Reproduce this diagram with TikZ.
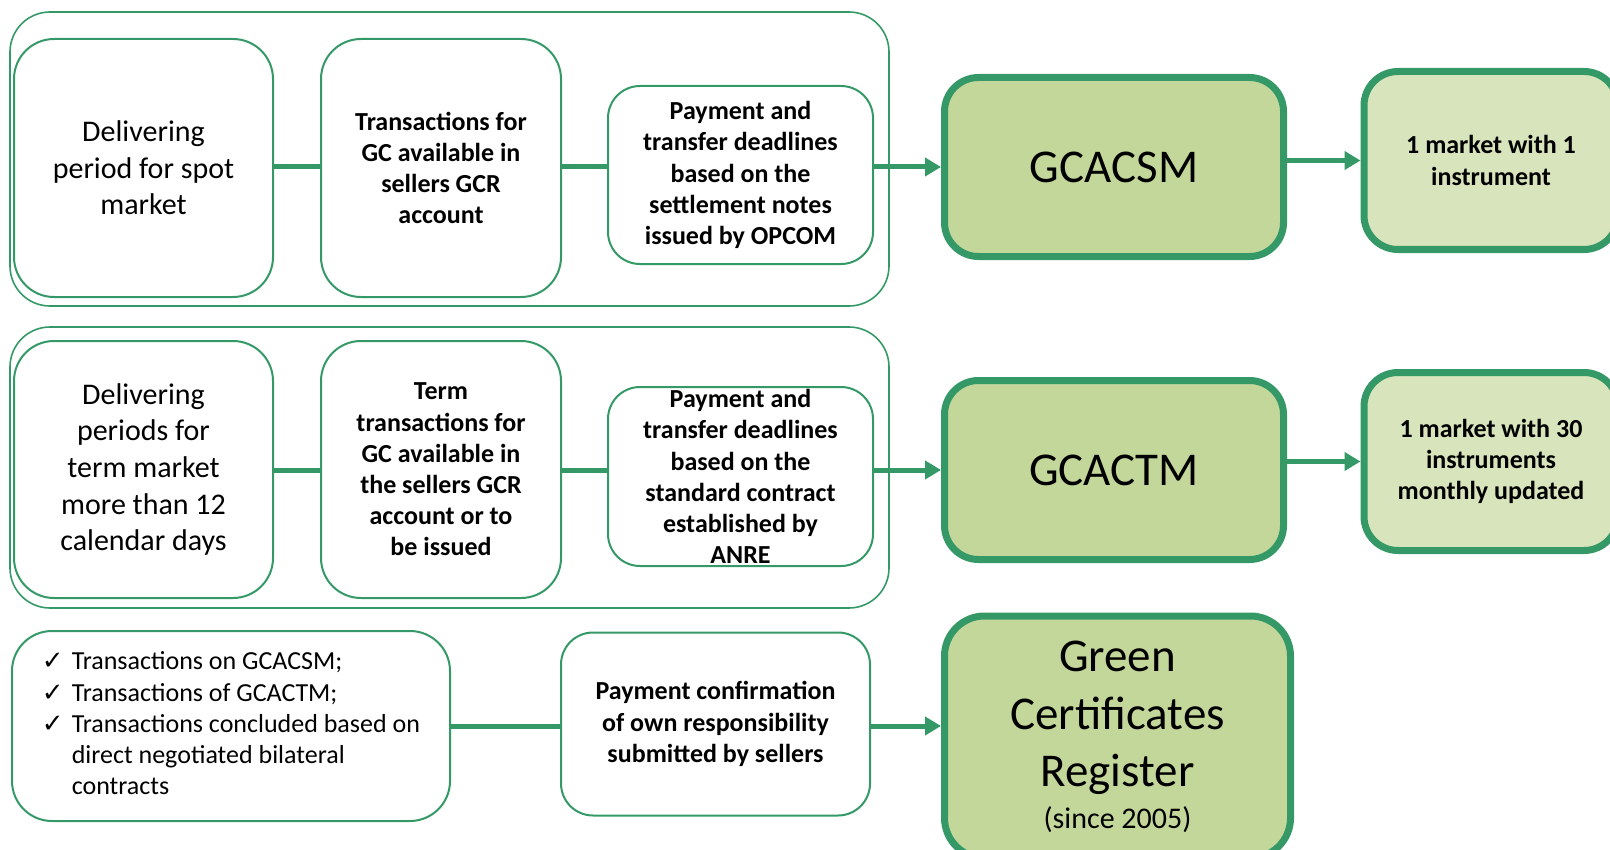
\documentclass[tikz,border=0pt]{standalone}
\usepackage{fontspec}
\setmainfont{Carlito}
\newfontfamily\symfont{DejaVu Sans}
\usetikzlibrary{arrows.meta}
\definecolor{gcgreen}{RGB}{52,153,103}
\definecolor{gcfill}{RGB}{196,215,155}
\definecolor{gclight}{RGB}{216,228,188}
\tikzset{
  frame/.style={draw=gcgreen, line width=0.8pt, rounded corners=20pt},
  stepbox/.style={draw=gcgreen, line width=1pt, fill=white, rounded corners=20pt, align=center, inner sep=0pt},
  plain/.style={stepbox, font=\fontsize{15}{18.3}\selectfont},
  bold/.style={stepbox, rounded corners=16pt, font=\bfseries\fontsize{13}{15.6}\selectfont},
  market/.style={draw=gcgreen, line width=3.5pt, fill=gcfill, rounded corners=17pt, align=center, inner sep=0pt, font=\fontsize{23.5}{28.75}\selectfont},
  result/.style={market, fill=gclight, font=\bfseries\fontsize{13}{15.6}\selectfont},
  link/.style={draw=gcgreen, line width=2.5pt},
  arrow/.style={link, -{Triangle[length=8pt,width=9pt]}}
}
\begin{document}
\begin{tikzpicture}[x=0.5pt, y=-0.5pt]
        \useasboundingbox (0,0) rectangle (1610,850);

        % Spot market row
        \draw[frame] (10,12) rectangle (889,306);
        \node[plain, minimum width=129.5pt, minimum height=129pt] (dlvSpot) at (143.5,168) {Delivering\\period for spot\\market};
        \node[bold, rounded corners=20pt, minimum width=120pt, minimum height=129pt] (trSpot) at (441,168) {Transactions for\\GC available in\\sellers GCR\\account};
        \node[bold, minimum width=132.5pt, minimum height=89pt] (paySpot) at (740.5,175) {Payment and\\transfer deadlines\\based on the\\settlement notes\\issued by OPCOM};
        \node[market, minimum width=169.5pt, minimum height=89.5pt] (gcacsm) at (1114,167) {GCACSM};
        \node[result, minimum width=127pt, minimum height=89pt] (mktSpot) at (1491,160.5) {1 market with 1\\instrument};

        \draw[link] (dlvSpot.east |- gcacsm.west) -- (trSpot.west |- gcacsm.west);
        \draw[link] (trSpot.east |- gcacsm.west) -- (paySpot.west |- gcacsm.west);
        \draw[arrow] (paySpot.east |- gcacsm.west) -- (gcacsm.west);
        \draw[arrow] (gcacsm.east |- mktSpot.west) -- (mktSpot.west);

        % Term market row
        \draw[frame] (10,327) rectangle (889,608);
        \node[plain, minimum width=129.5pt, minimum height=128.5pt] (dlvTerm) at (143.5,469.5) {Delivering\\periods for\\term market\\more than 12\\calendar days};
        \node[bold, rounded corners=20pt, minimum width=120pt, minimum height=128.5pt] (trTerm) at (441,469.5) {Term\\transactions for\\GC available in\\the sellers GCR\\account or to\\be issued};
        \node[bold, minimum width=132.5pt, minimum height=89.5pt] (payTerm) at (740.5,476.5) {Payment and\\transfer deadlines\\based on the\\standard contract\\established by\\ANRE};
        \node[market, minimum width=169.5pt, minimum height=89.5pt] (gcactm) at (1114,470) {GCACTM};
        \node[result, minimum width=127pt, minimum height=89pt] (mktTerm) at (1491,461.5) {1 market with 30\\instruments\\monthly updated};

        \draw[link] (dlvTerm.east |- gcactm.west) -- (trTerm.west |- gcactm.west);
        \draw[link] (trTerm.east |- gcactm.west) -- (payTerm.west |- gcactm.west);
        \draw[arrow] (payTerm.east |- gcactm.west) -- (gcactm.west);
        \draw[arrow] (gcactm.east |- mktTerm.west) -- (mktTerm.west);

        % Register row
        \node[stepbox, minimum width=219pt, minimum height=95pt, font=\fontsize{13}{15.6}\selectfont] (checks) at (231,726) {%
          \begin{tabular}{@{}l@{\hspace{4pt}}l@{}}
            {\symfont ✓} & Transactions on GCACSM;\\
            {\symfont ✓} & Transactions of GCACTM;\\
            {\symfont ✓} & Transactions concluded based on\\
             & direct negotiated bilateral\\
             & contracts
          \end{tabular}};
        \node[bold, minimum width=154.5pt, minimum height=91.5pt] (payConf) at (715.5,724) {Payment confirmation\\of own responsibility\\submitted by sellers};
        \node[market, rounded corners=20pt, minimum width=173pt, minimum height=121pt] (gcr) at (1117.5,737) {Green\\Certificates\\Register\\[-8pt]{\fontsize{15}{23}\selectfont (since 2005)}};

        \draw[link] (checks.east) -- (payConf.west |- checks.east);
        \draw[arrow] (payConf.east |- checks.east) -- (gcr.west |- checks.east);
    \end{tikzpicture}
\end{document}
